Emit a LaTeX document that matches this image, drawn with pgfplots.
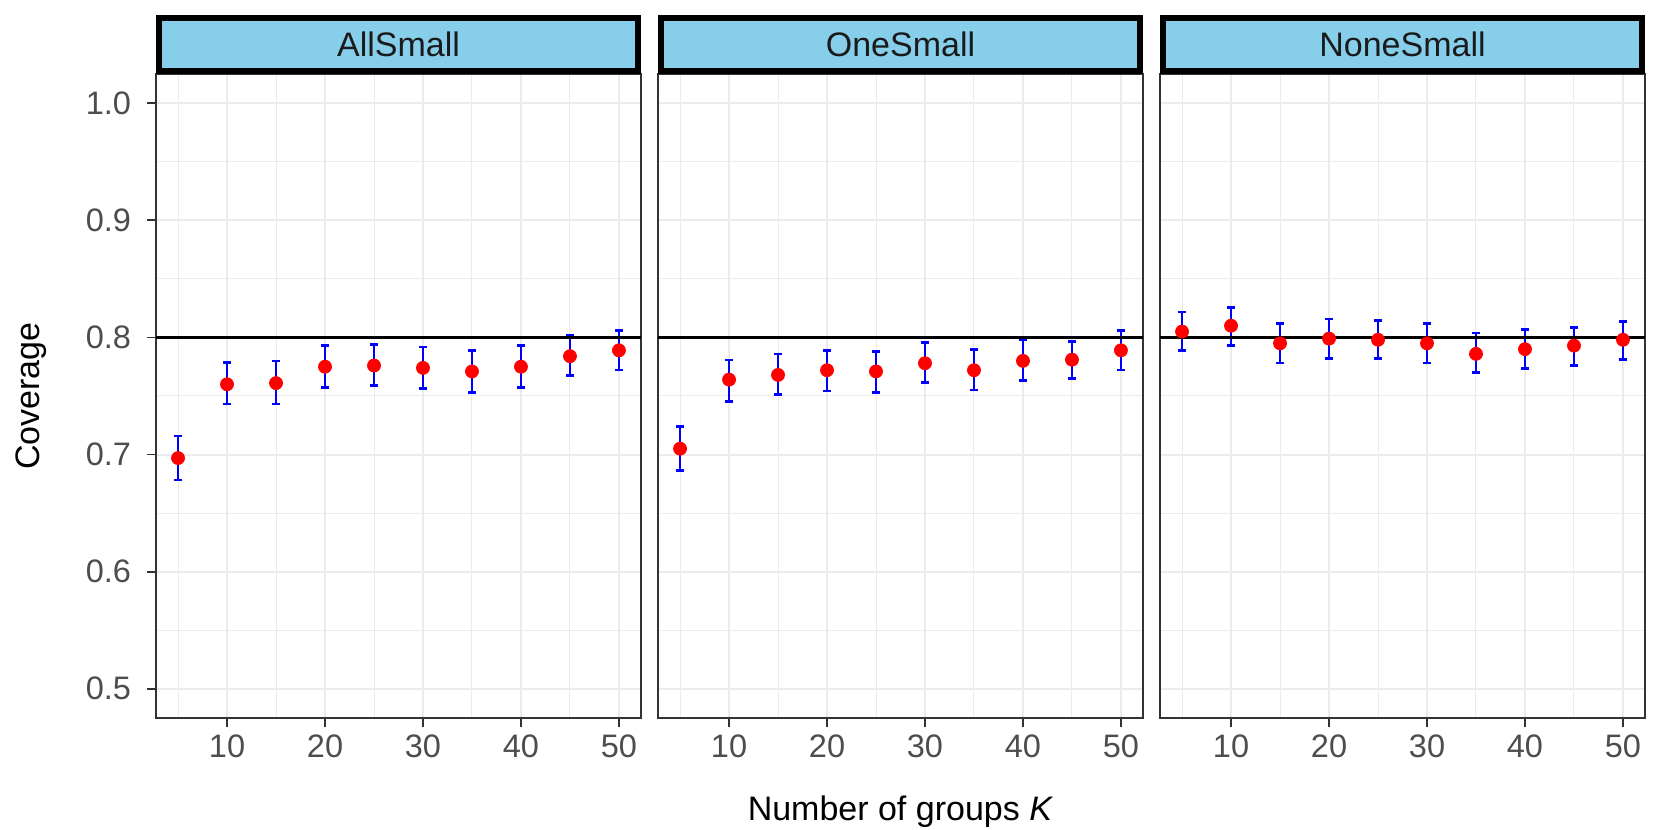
\documentclass[border=0pt]{standalone}
\usepackage{pgfplots}
\pgfplotsset{compat=1.18}
\usepackage{pgfplotstable}
\usepackage{fontspec}
\setmainfont{Liberation Sans}
\usetikzlibrary{arrows.meta}

\definecolor{stripblue}{HTML}{87CEEB}
\definecolor{gridgray}{HTML}{EBEBEB}
\definecolor{tickgray}{HTML}{4D4D4D}
\definecolor{framegray}{HTML}{333333}
\definecolor{striptext}{HTML}{1A1A1A}

% x = K, y = coverage, lo/hi = ends of the interval
\pgfplotstableread{
x  y     lo    hi
5  0.697 0.677 0.717
10 0.760 0.742 0.780
15 0.761 0.742 0.781
20 0.775 0.756 0.794
25 0.776 0.758 0.795
30 0.774 0.755 0.793
35 0.771 0.752 0.790
40 0.775 0.756 0.794
45 0.784 0.766 0.803
50 0.789 0.771 0.807
}\allsmall

\pgfplotstableread{
x  y     lo    hi
5  0.705 0.685 0.725
10 0.764 0.744 0.782
15 0.768 0.750 0.787
20 0.772 0.753 0.790
25 0.771 0.752 0.789
30 0.778 0.760 0.797
35 0.772 0.754 0.791
40 0.780 0.762 0.799
45 0.781 0.764 0.798
50 0.789 0.771 0.807
}\onesmall

\pgfplotstableread{
x  y     lo    hi
5  0.805 0.788 0.823
10 0.810 0.792 0.827
15 0.795 0.777 0.813
20 0.799 0.781 0.817
25 0.798 0.781 0.816
30 0.795 0.777 0.813
35 0.786 0.769 0.805
40 0.790 0.772 0.808
45 0.793 0.775 0.810
50 0.798 0.780 0.815
}\nonesmall

\pgfplotsset{
  facet/.style={
    scale only axis, width=242.5pt, height=322pt, anchor=south west,
    xmin=2.75, xmax=52.25, ymin=0.475, ymax=1.025,
    xtick={10,20,30,40,50}, minor xtick={5,15,25,35,45},
    ytick={0.5,0.6,0.7,0.8,0.9,1.0}, minor ytick={0.55,0.65,0.75,0.85,0.95},
    grid=both,
    major grid style={gridgray, line width=1pt},
    minor grid style={gridgray, line width=0.5pt},
    axis line style={framegray, line width=0.6pt},
    tick style={framegray, line width=0.9pt},
    tick align=outside, major tick length=4.5pt, minor tick length=0pt,
    xtick pos=bottom, ytick pos=left,
    /pgf/number format/assume math mode=true,
    ticklabel style={font=\fontsize{16.25}{18}\selectfont, text=tickgray},
    yticklabel style={xshift=-4.5pt, /pgf/number format/.cd, fixed, fixed zerofill, precision=1},
    xticklabel style={yshift=-0.5pt},
  },
}

% interval bar (lo to hi, capped), reference line at 0.8, then the points
\newcommand{\panel}[1]{%
  \addplot[blue, line width=1.4pt,
    quiver={u=0, v={\thisrow{hi}-\thisrow{lo}},
      every arrow/.append style={{Bar[width=3.9pt,line width=1.4pt]}-{Bar[width=3.9pt,line width=1.4pt]}}}]
    table[x=x, y=lo] {#1};
  \addplot[black, line width=1.25pt, forget plot] coordinates {(2.75,0.8) (52.25,0.8)};
  \addplot[only marks, mark=*, mark size=3.25pt, red,
    mark options={draw=red, fill=red}] table[x=x, y=y] {#1};
}

\begin{document}
\begin{tikzpicture}
\useasboundingbox (0,0) rectangle (830.5pt,415pt);

\begin{axis}[facet, name=a1, at={(78pt,56pt)},
  ylabel={Coverage},
  ylabel style={at={(axis description cs:-0.2392,0.5)}, anchor=base,
    font=\fontsize{17}{20}\selectfont}]
\panel{\allsmall}
\end{axis}

\begin{axis}[facet, name=a2, at={(329pt,56pt)},
  yticklabels={}, ytick style={draw=none},
  xlabel={Number of groups \textit{K}},
  xlabel style={at={(axis description cs:0.5,-0.1584)}, anchor=base,
    font=\fontsize{17}{20}\selectfont}]
\panel{\onesmall}
\end{axis}

\begin{axis}[facet, name=a3, at={(580pt,56pt)},
  yticklabels={}, ytick style={draw=none}]
\panel{\nonesmall}
\end{axis}

\foreach \a/\t in {a1/AllSmall, a2/OneSmall, a3/NoneSmall}{
  \draw[fill=stripblue, line width=2.75pt]
    ([xshift=1.4pt, yshift=1.4pt]\a.north west) rectangle
    ([xshift=-1.4pt, yshift=28.1pt]\a.north east);
  \node[anchor=base, text=striptext, font=\fontsize{17}{20}\selectfont]
    at ([yshift=8.7pt]\a.north) {\t};
}
\end{tikzpicture}
\end{document}
